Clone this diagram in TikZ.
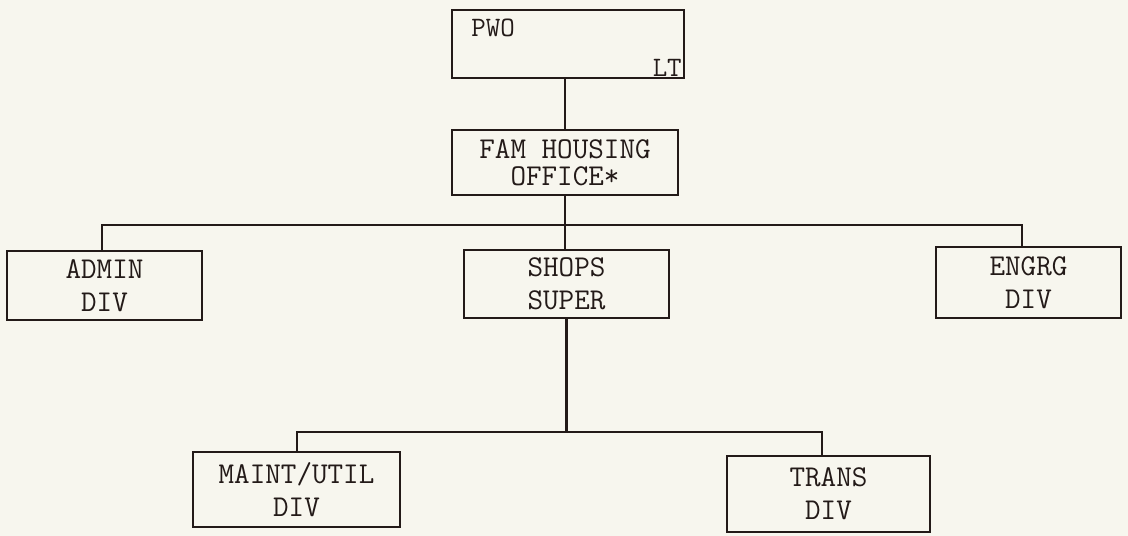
\documentclass[tikz,border=0pt]{standalone}
\usepackage{fontspec}
\definecolor{paper}{HTML}{F7F6EE}
\definecolor{ink}{HTML}{231A18}
\begin{document}
\begin{tikzpicture}[x=0.025cm,y=-0.025cm,
  box/.style={draw=ink, line width=2pt, inner sep=0pt, align=center, text=ink,
    font=\ttfamily\fontsize{21.5}{23.5}\selectfont},
  lbl/.style={inner sep=0pt, text=ink, font=\ttfamily\fontsize{20}{22}\selectfont},
  conn/.style={draw=ink, line width=2pt}]
\fill[paper] (0,0) rectangle (1128,536);
\useasboundingbox (0,0) rectangle (1128,536);
% boxes
\node[box, minimum width=5.8cm, minimum height=1.7cm] (pwo) at (568,44) {};
\node[lbl, anchor=west] (pwot) at (471,28) {PWO};
\node[lbl, anchor=east] (lt) at (682,68) {LT};
\node[box, minimum width=5.65cm, minimum height=1.625cm, font=\ttfamily\fontsize{21.5}{19.5}\selectfont] (fam) at (565,162.5) {FAM HOUSING\\OFFICE*};
\node[box, minimum width=4.875cm, minimum height=1.725cm] (admin) at (104.5,285.5) {ADMIN\\DIV};
\node[box, minimum width=5.125cm, minimum height=1.7cm] (shops) at (566.5,284) {SHOPS\\SUPER};
\node[box, minimum width=4.625cm, minimum height=1.775cm] (engrg) at (1028.5,282.5) {ENGRG\\DIV};
\node[box, minimum width=5.175cm, minimum height=1.875cm] (maint) at (296.5,489.5) {MAINT/UTIL\\DIV};
\node[box, minimum width=5.075cm, minimum height=1.9cm] (trans) at (828.5,494) {TRANS\\DIV};
% bus coordinates
\coordinate (busL) at (102,225);
\coordinate (busR) at (1022,225);
\coordinate (lbL) at (297,432);
\coordinate (lbR) at (822,432);
% connectors
\draw[conn] (fam.north) -- (fam.north |- pwo.south);
\draw[conn] (fam.south) -- (fam.south |- shops.north);
\draw[conn] (busL |- admin.north) -- (busL) -- (busR) -- (busR |- engrg.north);
\draw[conn] (shops.south) -- (shops.south |- lbL);
\draw[conn] (lbL |- maint.north) -- (lbL) -- (lbR) -- (lbR |- trans.north);
\end{tikzpicture}
\end{document}
